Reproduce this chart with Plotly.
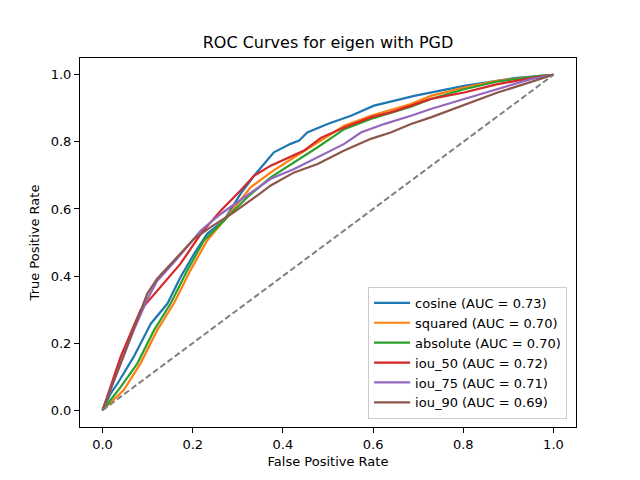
import plotly.graph_objects as go

# ROC curve points (FPR, TPR)
cosine_fpr = [0.0, 0.018, 0.033, 0.069, 0.107, 0.144, 0.173, 0.203, 0.232, 0.269, 0.306, 0.336, 0.358, 0.38,
              0.417, 0.436, 0.454, 0.499, 0.551, 0.602, 0.639, 0.691, 0.802, 0.913, 1.0]
cosine_tpr = [0.0, 0.05, 0.079, 0.159, 0.258, 0.318, 0.397, 0.466, 0.526, 0.565, 0.645, 0.699, 0.734, 0.769,
              0.794, 0.804, 0.828, 0.853, 0.878, 0.908, 0.92, 0.937, 0.967, 0.99, 1.0]

squared_fpr = [0.0, 0.047, 0.084, 0.121, 0.158, 0.195, 0.232, 0.269, 0.329, 0.373, 0.425, 0.477, 0.536,
               0.595, 0.684, 0.728, 0.802, 0.876, 0.97, 1.0]
squared_tpr = [0.0, 0.06, 0.139, 0.238, 0.318, 0.417, 0.506, 0.565, 0.665, 0.709, 0.754, 0.799, 0.848,
               0.878, 0.913, 0.937, 0.962, 0.982, 0.997, 1.0]

absolute_fpr = [0.0, 0.04, 0.077, 0.114, 0.151, 0.188, 0.225, 0.262, 0.321, 0.373, 0.425, 0.477, 0.536,
                0.595, 0.684, 0.728, 0.802, 0.876, 0.97, 1.0]
absolute_tpr = [0.0, 0.069, 0.139, 0.238, 0.318, 0.417, 0.506, 0.556, 0.635, 0.694, 0.739, 0.784, 0.838,
                0.868, 0.905, 0.928, 0.957, 0.98, 0.997, 1.0]

iou50_fpr = [0.0, 0.04, 0.084, 0.129, 0.173, 0.218, 0.262, 0.306, 0.336, 0.373, 0.447, 0.484, 0.536,
             0.595, 0.639, 0.684, 0.728, 0.802, 0.876, 0.95, 1.0]
iou50_tpr = [0.0, 0.159, 0.298, 0.367, 0.437, 0.526, 0.595, 0.655, 0.699, 0.729, 0.774, 0.812, 0.843,
             0.873, 0.888, 0.908, 0.928, 0.947, 0.972, 0.99, 1.0]

iou75_fpr = [0.0, 0.069, 0.099, 0.121, 0.158, 0.218, 0.262, 0.314, 0.373, 0.425, 0.477, 0.536, 0.573,
             0.624, 0.684, 0.728, 0.802, 0.876, 0.95, 1.0]
iou75_tpr = [0.0, 0.238, 0.33, 0.385, 0.44, 0.536, 0.585, 0.635, 0.69, 0.719, 0.754, 0.794, 0.828,
             0.853, 0.878, 0.898, 0.928, 0.957, 0.987, 1.0]

iou90_fpr = [0.0, 0.069, 0.099, 0.121, 0.158, 0.203, 0.24, 0.291, 0.343, 0.373, 0.425, 0.477, 0.536,
             0.595, 0.639, 0.684, 0.728, 0.817, 0.876, 0.935, 1.0]
iou90_tpr = [0.0, 0.238, 0.347, 0.392, 0.446, 0.511, 0.546, 0.59, 0.64, 0.67, 0.709, 0.734, 0.774,
             0.809, 0.828, 0.853, 0.873, 0.918, 0.947, 0.972, 1.0]

names = ['cosine (AUC = 0.73)', 'squared (AUC = 0.70)', 'absolute (AUC = 0.70)',
         'iou_50 (AUC = 0.72)', 'iou_75 (AUC = 0.71)', 'iou_90 (AUC = 0.69)']
colors = ['#1f77b4', '#ff7f0e', '#2ca02c', '#d62728', '#9467bd', '#8c564b']
curves = [(cosine_fpr, cosine_tpr), (squared_fpr, squared_tpr), (absolute_fpr, absolute_tpr),
          (iou50_fpr, iou50_tpr), (iou75_fpr, iou75_tpr), (iou90_fpr, iou90_tpr)]

diag = [0.0, 1.0]

fig = go.Figure()

for (fpr, tpr), name, color in zip(curves, names, colors):
    fig.add_trace(go.Scatter(x=fpr, y=tpr, mode='lines', name=name,
                             line=dict(color=color, width=2.2)))

fig.add_trace(go.Scatter(x=diag, y=diag, mode='lines', showlegend=False,
                         line=dict(color='gray', width=2, dash='6px,3px')))

axis_style = dict(range=[-0.05, 1.05], showgrid=False, zeroline=False,
                  showline=True, linecolor='black', linewidth=1, mirror=True,
                  ticks='outside', ticklen=5, tickcolor='black',
                  tickvals=[0, 0.2, 0.4, 0.6, 0.8, 1.0], tickformat='.1f',
                  tickfont=dict(size=13, color='black'))

# page body has an 8px offset, so margins are shifted to put the axes where the reference has them
fig.update_layout(
    width=640, height=480,
    margin=dict(l=72, r=72, t=50, b=61),
    plot_bgcolor='white', paper_bgcolor='white',
    font=dict(family='DejaVu Sans', color='black'),
    title=dict(text='ROC Curves for eigen with PGD', x=0.5, xref='paper',
               y=1 - 34 / 480, yanchor='middle', font=dict(size=16)),
    xaxis=dict(title=dict(text='False Positive Rate', font=dict(size=13), standoff=6), **axis_style),
    yaxis=dict(title=dict(text='True Positive Rate', font=dict(size=13), standoff=8), **axis_style),
    legend=dict(x=0.982, y=0.022, xanchor='right', yanchor='bottom',
                bgcolor='rgba(255,255,255,0.8)', bordercolor='#cccccc', borderwidth=1,
                font=dict(size=13), tracegroupgap=0, itemwidth=36),
)

fig.write_html("out.html")
